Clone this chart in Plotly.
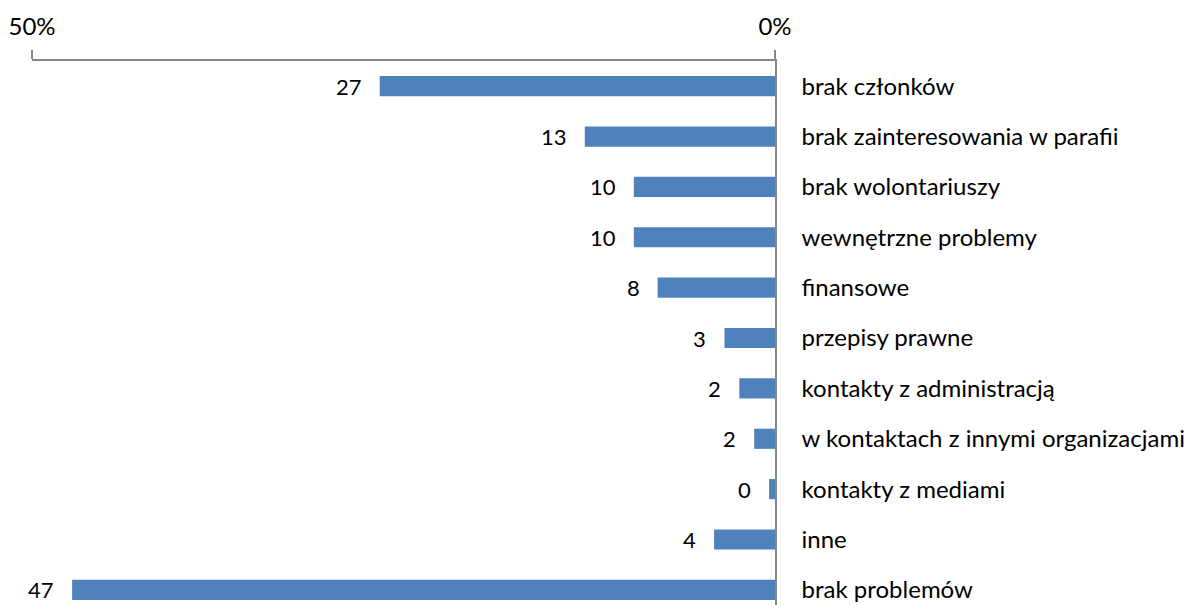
import plotly.graph_objects as go

categories = [
    "brak członków",
    "brak zainteresowania w parafii",
    "brak wolontariuszy",
    "wewnętrzne problemy",
    "finansowe",
    "przepisy prawne",
    "kontakty z administracją",
    "w kontaktach z innymi organizacjami",
    "kontakty z mediami",
    "inne",
    "brak problemów",
]
values = [26.6, 12.8, 9.5, 9.5, 7.9, 3.4, 2.4, 1.4, 0.4, 4.1, 47.3]
value_labels = ["27", "13", "10", "10", "8", "3", "2", "2", "0", "4", "47"]
tick_values = [50, 0]
tick_labels = ["50%", "0%"]

FONT = "Lato"
BAR = "#4F81BD"
AXIS = "#868686"

fig = go.Figure()
fig.add_trace(go.Bar(
    x=values,
    y=categories,
    orientation="h",
    marker=dict(color=BAR, line=dict(width=0)),
    hoverinfo="x+y",
))

for v, c, t in zip(values, categories, value_labels):
    fig.add_annotation(
        x=v, y=c, text=t, showarrow=False,
        xanchor="right", yanchor="middle", xshift=-16,
        font=dict(family=FONT, size=22, color="#000000"),
    )

fig.update_layout(
    width=1201,
    height=605,
    margin=dict(l=32, r=426, t=61, b=0),
    paper_bgcolor="white",
    plot_bgcolor="white",
    bargap=0.6,
    showlegend=False,
    font=dict(family=FONT, size=22, color="#000000"),
    xaxis=dict(
        side="top",
        range=[50, 0],
        tickvals=tick_values,
        ticktext=tick_labels,
        showgrid=False,
        zeroline=False,
        showline=True,
        linecolor=AXIS,
        linewidth=1.5,
        ticks="outside",
        ticklen=9,
        tickcolor=AXIS,
        tickwidth=1.5,
        ticklabelstandoff=6,
        tickfont=dict(family=FONT, size=24, color="#000000"),
    ),
    yaxis=dict(
        type="category",
        categoryorder="array",
        categoryarray=categories,
        range=[10.3, -0.5],
        side="right",
        showgrid=False,
        zeroline=False,
        showline=True,
        linecolor=AXIS,
        linewidth=1.5,
        ticks="",
        ticklabelstandoff=20,
        tickfont=dict(family=FONT, size=24, color="#000000"),
    ),
)

fig.write_html(
    "out.html",
    config={"displayModeBar": False},
    post_script="document.body.style.margin='0';document.body.style.overflow='hidden';",
)
